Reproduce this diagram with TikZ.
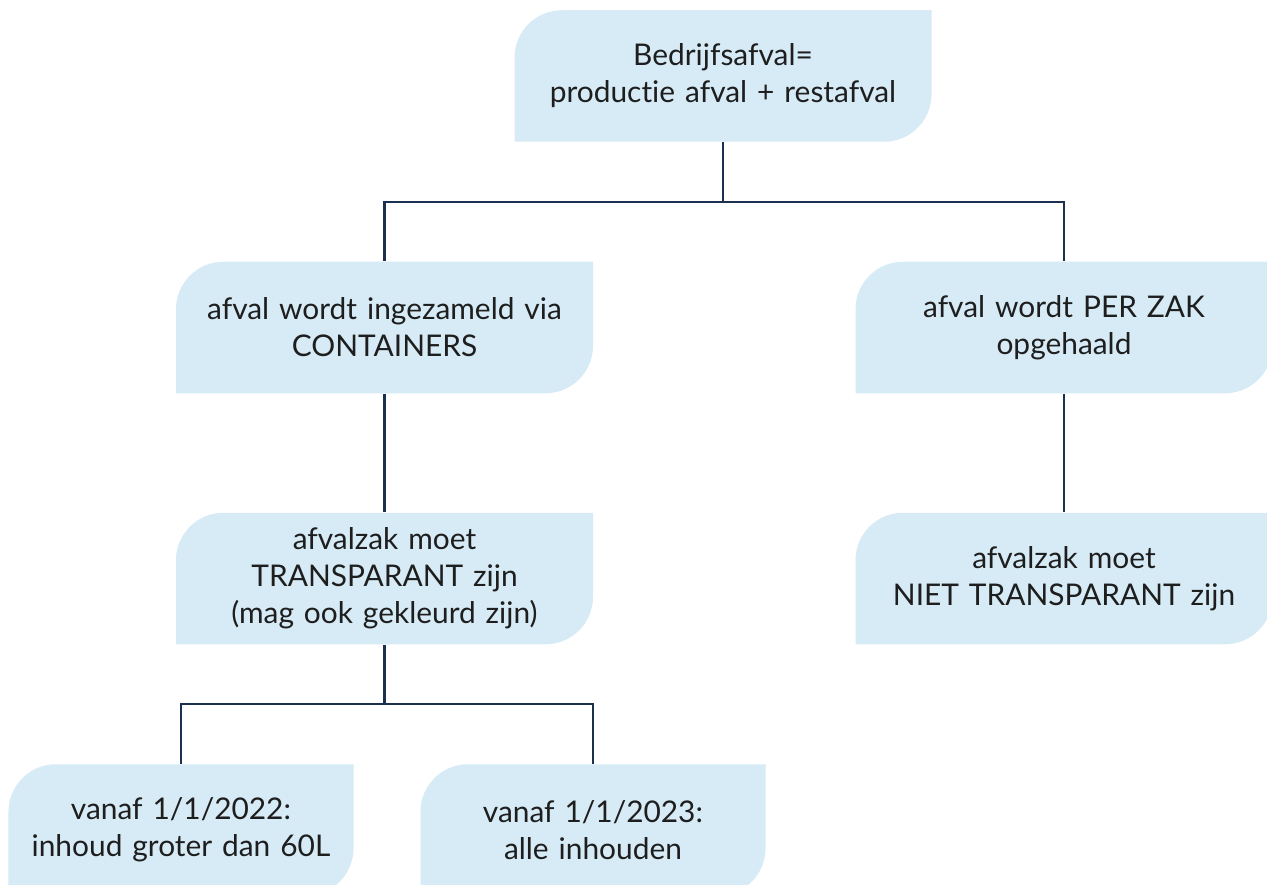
\documentclass[tikz,border=0pt]{standalone}
\usepackage{fontspec}
\setmainfont{Lato}[Ligatures=NoCommon]
\usepackage{xcolor}
\usepackage{tikz}
\usetikzlibrary{positioning,calc}
\definecolor{blokblauw}{HTML}{D6EBF6}
\definecolor{lijnblauw}{HTML}{1C3152}
\definecolor{tekstkleur}{HTML}{1E1E1E}
\newcommand{\blokfont}{\fontsize{17}{21}\selectfont}
\tikzset{blok/.style={fill=white,inner sep=0pt,text width=#1,minimum height=2.63cm,align=center,font=\blokfont,text=tekstkleur,
    path picture={\fill[blokblauw] (path picture bounding box.south west) -- ([yshift=-0.95cm]path picture bounding box.north west)
      arc[start angle=180,end angle=90,radius=0.95cm] -- (path picture bounding box.north east)
      -- ([yshift=0.95cm]path picture bounding box.south east) arc[start angle=0,end angle=-90,radius=0.95cm] -- cycle;}},
  blok/.default=8.34cm,
  lijn/.style={draw=lijnblauw,line width=1.4pt}}

\begin{document}
\begin{tikzpicture}
    \useasboundingbox (0,0) rectangle (25.34,-17.7);

    \node[blok] (top)at (14.46,-1.52) {Bedrijfsafval=\\productie afval + restafval};
    \node[blok] (cont)at (7.69,-6.55) {afval wordt ingezameld via\\CONTAINERS};
    \node[blok] (zak)at (21.28,-6.55) {afval wordt PER ZAK\\opgehaald};
    \node[blok] (transp)at (7.69,-11.57) {afvalzak moet\\TRANSPARANT zijn\\(mag ook gekleurd zijn)};
    \node[blok] (niet)at (21.28,-11.57) {afvalzak moet\\NIET TRANSPARANT zijn};
    \node[blok=6.9cm] (v22)at (3.62,-16.6) {vanaf 1/1/2022:\\inhoud groter dan 60L};
    \node[blok=6.9cm] (v23)at (11.86,-16.6) {vanaf 1/1/2023:\\alle inhouden};

    % splitsingen
    \coordinate (s1) at ($(top.south)!.5!(top.south |- cont.north)$);
    \coordinate (s2) at ($(transp.south)!.5!(transp.south |- v22.north)$);

    \draw [lijn] (top.south) -- (s1) -| (cont.north);
    \draw [lijn] (s1) -| (zak.north);
    \draw [lijn] (cont) -- (transp);
    \draw [lijn] (zak) -- (niet);
    \draw [lijn] (transp.south) -- (s2) -| (v22.north);
    \draw [lijn] (s2) -| (v23.north);
\end{tikzpicture}
\end{document}
